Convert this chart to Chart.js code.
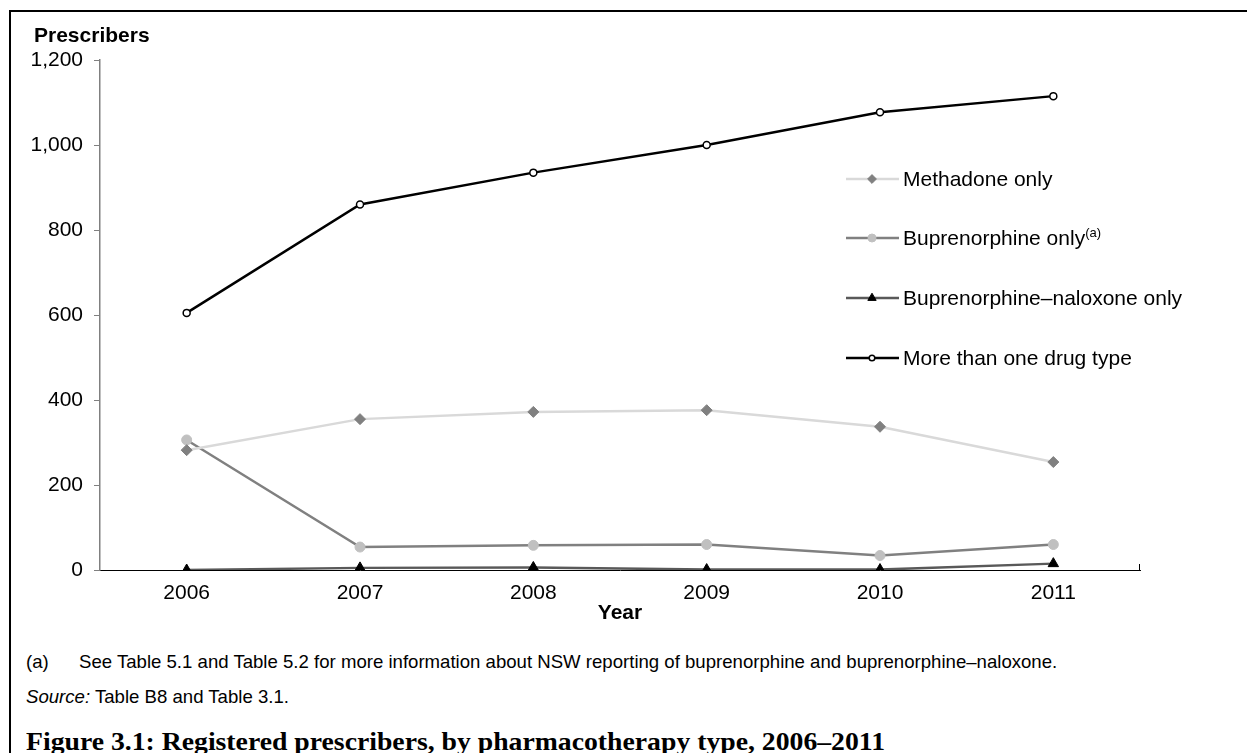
<!DOCTYPE html>
<html>
<head>
<meta charset="utf-8">
<script src="https://cdn.jsdelivr.net/npm/chart.js@4.4.1/dist/chart.umd.min.js"></script>
<style>
  html, body { margin: 0; padding: 0; background: #fff; }
  body { width: 1247px; height: 753px; position: relative; overflow: hidden; font-family: "Liberation Sans", Arial, sans-serif; }
  #frame { position: absolute; left: 9px; top: 10px; width: 1250px; height: 760px; border-left: 2px solid #000; border-top: 2px solid #000; box-sizing: border-box; }
  #chartWrap { position: absolute; left: 0; top: 0; width: 1247px; height: 630px; }
  .ytitle { position: absolute; left: 34px; top: 24px; font-weight: bold; font-size: 21px; line-height: 21px; color: #000; }
  .note { position: absolute; font-size: 18.6px; line-height: 18px; color: #000; white-space: nowrap; }
  .fig { position: absolute; left: 26px; top: 729px; font-family: "Liberation Serif", "DejaVu Serif", serif; font-weight: bold; font-size: 25px; line-height: 25px; color: #000; white-space: nowrap; transform-origin: 0 0; }
</style>
</head>
<body>
<div id="frame"></div>
<div id="chartWrap"><canvas id="prescribersChart" width="1247" height="630"></canvas></div>
<div class="ytitle">Prescribers</div>
<div class="note" style="left:26px; top:653px;">(a)</div>
<div class="note" style="left:79px; top:653px;">See Table 5.1 and Table 5.2 for more information about NSW reporting of buprenorphine and buprenorphine&ndash;naloxone.</div>
<div class="note" style="left:26px; top:688px;"><i>Source:</i> Table B8 and Table 3.1.</div>
<div class="fig" id="figTitle">Figure 3.1: Registered prescribers, by pharmacotherapy type, 2006&ndash;2011</div>
<script>
const years = ['2006', '2007', '2008', '2009', '2010', '2011'];
const methadoneOnly = [282, 355, 372, 376, 337, 254];
const buprenorphineOnly = [306, 54, 58, 60, 34, 60];
const bupNaloxoneOnly = [0, 5, 6, 1, 1, 15];
const moreThanOne = [605, 860, 935, 1000, 1077, 1115];
const yTicks = [0, 200, 400, 600, 800, 1000, 1200];

const FONT = '"Liberation Sans", Arial, sans-serif';

// stretch the caption to the width the serif face takes in the original
const fig = document.getElementById('figTitle');
fig.style.transform = 'scaleX(' + (859 / fig.getBoundingClientRect().width) + ')';

const datasets = [
  {
    label: 'Methadone only',
    data: methadoneOnly,
    borderColor: '#d9d9d9',
    borderWidth: 2.5,
    pointStyle: 'rectRot',
    pointRadius: 5.5,
    pointBackgroundColor: '#808080',
    pointBorderColor: '#808080',
    pointBorderWidth: 1
  },
  {
    label: 'Buprenorphine only',
    sup: '(a)',
    data: buprenorphineOnly,
    borderColor: '#808080',
    borderWidth: 2.5,
    pointStyle: 'circle',
    pointRadius: 5,
    pointBackgroundColor: '#c0c0c0',
    pointBorderColor: '#c0c0c0',
    pointBorderWidth: 1
  },
  {
    label: 'Buprenorphine\u2013naloxone only',
    data: bupNaloxoneOnly,
    borderColor: '#595959',
    borderWidth: 2.5,
    pointStyle: 'triangle',
    pointRadius: 6,
    pointBackgroundColor: '#000',
    pointBorderColor: '#000',
    pointBorderWidth: 1
  },
  {
    label: 'More than one drug type',
    data: moreThanOne,
    borderColor: '#000',
    borderWidth: 2.5,
    pointStyle: 'circle',
    pointRadius: 3.5,
    pointBackgroundColor: '#fff',
    pointBorderColor: '#000',
    pointBorderWidth: 1.5
  }
];

// legend drawn by hand so it can sit inside the plot like the original
const sideLegend = {
  id: 'sideLegend',
  afterDraw(chart) {
    const ctx = chart.ctx;
    const rows = [179, 238, 298, 358];
    ctx.save();
    chart.data.datasets.forEach((ds, i) => {
      const y = rows[i];
      ctx.strokeStyle = ds.borderColor;
      ctx.lineWidth = ds.borderWidth;
      ctx.beginPath();
      ctx.moveTo(846, y);
      ctx.lineTo(899, y);
      ctx.stroke();
      ctx.fillStyle = ds.pointBackgroundColor;
      ctx.strokeStyle = ds.pointBorderColor;
      ctx.lineWidth = ds.pointBorderWidth;
      Chart.helpers.drawPoint(ctx, { pointStyle: ds.pointStyle, radius: ds.pointRadius * 0.8, borderWidth: ds.pointBorderWidth }, 872, y);
      ctx.fillStyle = '#000';
      ctx.font = '21px ' + FONT;
      ctx.textBaseline = 'middle';
      ctx.textAlign = 'left';
      ctx.fillText(ds.label, 903, y + 1);
      if (ds.sup) {
        const w = ctx.measureText(ds.label).width;
        ctx.font = '13px ' + FONT;
        ctx.fillText(ds.sup, 903 + w, y - 5);
      }
    });
    ctx.restore();
  }
};

// small closing tick at the right end of the category axis
const axisEndTick = {
  id: 'axisEndTick',
  afterDraw(chart) {
    const { ctx, chartArea } = chart;
    ctx.save();
    ctx.strokeStyle = '#000';
    ctx.lineWidth = 1;
    ctx.beginPath();
    ctx.moveTo(chartArea.right - 0.5, chartArea.bottom);
    ctx.lineTo(chartArea.right - 0.5, chartArea.bottom - 6);
    ctx.stroke();
    ctx.restore();
  }
};

new Chart(document.getElementById('prescribersChart').getContext('2d'), {
  type: 'line',
  data: { labels: years, datasets },
  options: {
    responsive: false,
    animation: false,
    layout: { padding: { top: 60, right: 107, left: 0, bottom: 0 } },
    elements: { line: { tension: 0 } },
    plugins: { legend: { display: false }, tooltip: { enabled: false } },
    scales: {
      x: {
        offset: true,
        grid: { display: false, drawTicks: false },
        border: { display: true, color: '#000', width: 1 },
        ticks: { color: '#000', font: { size: 21, family: FONT }, padding: 11 },
        title: { display: true, text: 'Year', color: '#000', font: { size: 21, weight: 'bold', family: FONT }, padding: { top: 0, bottom: 4 } },
        afterFit(scale) { scale.height = 60; }
      },
      y: {
        min: 0,
        max: 1200,
        afterBuildTicks(scale) { scale.ticks = yTicks.map(v => ({ value: v })); },
        grid: { drawOnChartArea: false, drawTicks: true, tickLength: 6, color: '#808080' },
        border: { display: true, color: '#808080', width: 1.5 },
        ticks: {
          color: '#000',
          padding: 11,
          font: { size: 21, family: FONT },
          callback: v => v.toLocaleString('en-US')
        },
        afterFit(scale) { scale.width = 100; }
      }
    }
  },
  plugins: [sideLegend, axisEndTick]
});
</script>
</body>
</html>
